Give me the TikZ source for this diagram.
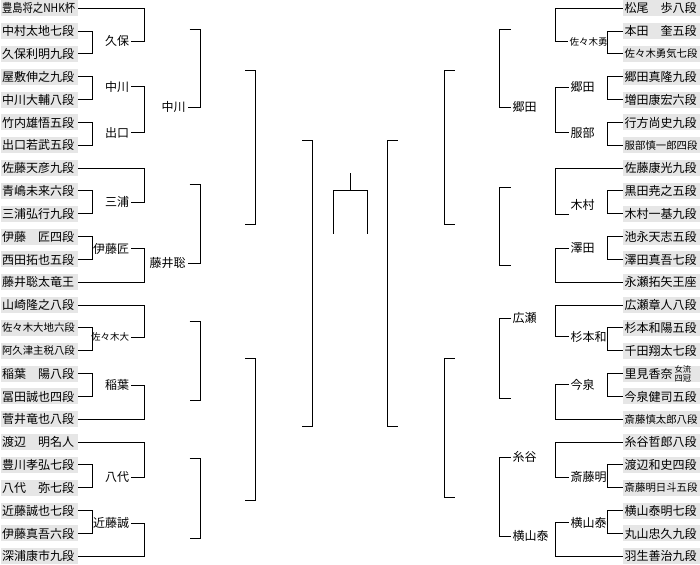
\documentclass[tikz,border=0pt]{standalone}
\usepackage{fontspec}
\setmainfont{Noto Sans CJK JP}
\usetikzlibrary{calc}
\definecolor{boxgray}{HTML}{E6E6E6}
\newcommand\nmtxt[1]{\makebox[74pt][l]{#1}}
\begin{document}
\begin{tikzpicture}[x=1pt,y=-1pt,line width=1pt,
  namebox/.style={fill=boxgray, inner xsep=1.5pt, inner ysep=0pt, minimum height=16pt, anchor=west,
    font=\fontsize{12}{14}\selectfont, text height=10.6pt, text depth=1.4pt},
  smallname/.style={namebox, font=\fontsize{10.4}{12}\selectfont, text height=9.2pt, text depth=1.2pt},
  lab/.style={inner xsep=1.5pt, inner ysep=0pt, font=\fontsize{12}{14}\selectfont, text height=10.6pt, text depth=1.4pt},
  smalllab/.style={lab, font=\fontsize{9.5}{11}\selectfont, text height=8.4pt, text depth=1.1pt},
]
\useasboundingbox (0,0) rectangle (700,564);

% ---------- left names ----------
\node[namebox]   (L0)  at (0,8.3)   {\nmtxt{\scalebox{0.86}[1]{豊島将之NHK杯}}};
\node[namebox]   (L1)  at (0,31.1)  {\nmtxt{中村太地七段}};
\node[namebox]   (L2)  at (0,54.0)  {\nmtxt{久保利明九段}};
\node[namebox]   (L3)  at (0,76.8)  {\nmtxt{屋敷伸之九段}};
\node[namebox]   (L4)  at (0,99.6)  {\nmtxt{中川大輔八段}};
\node[namebox]   (L5)  at (0,122.5) {\nmtxt{竹内雄悟五段}};
\node[namebox]   (L6)  at (0,145.3) {\nmtxt{出口若武五段}};
\node[namebox]   (L7)  at (0,168.1) {\nmtxt{佐藤天彦九段}};
\node[namebox]   (L8)  at (0,190.9) {\nmtxt{青嶋未来六段}};
\node[namebox]   (L9)  at (0,213.8) {\nmtxt{三浦弘行九段}};
\node[namebox]   (L10) at (0,236.6) {\nmtxt{伊藤　匠四段}};
\node[namebox]   (L11) at (0,259.4) {\nmtxt{西田拓也五段}};
\node[namebox]   (L12) at (0,282.3) {\nmtxt{藤井聡太竜王}};
\node[namebox]   (L13) at (0,305.1) {\nmtxt{山崎隆之八段}};
\node[smallname] (L14) at (0,327.9) {\nmtxt{佐々木大地六段}};
\node[smallname] (L15) at (0,350.8) {\nmtxt{阿久津主税八段}};
\node[namebox]   (L16) at (0,373.6) {\nmtxt{稲葉　陽八段}};
\node[namebox]   (L17) at (0,396.4) {\nmtxt{冨田誠也四段}};
\node[namebox]   (L18) at (0,419.2) {\nmtxt{菅井竜也八段}};
\node[namebox]   (L19) at (0,442.1) {\nmtxt{渡辺　明名人}};
\node[namebox]   (L20) at (0,464.9) {\nmtxt{豊川孝弘七段}};
\node[namebox]   (L21) at (0,487.7) {\nmtxt{八代　弥七段}};
\node[namebox]   (L22) at (0,510.6) {\nmtxt{近藤誠也七段}};
\node[namebox]   (L23) at (0,533.4) {\nmtxt{伊藤真吾六段}};
\node[namebox]   (L24) at (0,556.2) {\nmtxt{深浦康市九段}};

% ---------- right names ----------
\node[namebox]   (R0)  at (622.7,8.3)   {\nmtxt{松尾　歩八段}};
\node[namebox]   (R1)  at (622.7,31.1)  {\nmtxt{本田　奎五段}};
\node[smallname] (R2)  at (622.7,54.0)  {\nmtxt{佐々木勇気七段}};
\node[namebox]   (R3)  at (622.7,76.8)  {\nmtxt{郷田真隆九段}};
\node[namebox]   (R4)  at (622.7,99.6)  {\nmtxt{増田康宏六段}};
\node[namebox]   (R5)  at (622.7,122.5) {\nmtxt{行方尚史九段}};
\node[smallname] (R6)  at (622.7,145.3) {\nmtxt{服部慎一郎四段}};
\node[namebox]   (R7)  at (622.7,168.1) {\nmtxt{佐藤康光九段}};
\node[namebox]   (R8)  at (622.7,190.9) {\nmtxt{黒田尭之五段}};
\node[namebox]   (R9)  at (622.7,213.8) {\nmtxt{木村一基九段}};
\node[namebox]   (R10) at (622.7,236.6) {\nmtxt{池永天志五段}};
\node[namebox]   (R11) at (622.7,259.4) {\nmtxt{澤田真吾七段}};
\node[namebox]   (R12) at (622.7,282.3) {\nmtxt{永瀬拓矢王座}};
\node[namebox]   (R13) at (622.7,305.1) {\nmtxt{広瀬章人八段}};
\node[namebox]   (R14) at (622.7,327.9) {\nmtxt{杉本和陽五段}};
\node[namebox]   (R15) at (622.7,350.8) {\nmtxt{千田翔太七段}};
\node[namebox]   (R16) at (622.7,373.6) {\nmtxt{里見香奈\hspace{2pt}\raisebox{1.5pt}{\fontsize{8.2}{8.6}\selectfont\begin{tabular}{@{}c@{}}女流\\四冠\end{tabular}}}};
\node[namebox]   (R17) at (622.7,396.4) {\nmtxt{今泉健司五段}};
\node[smallname] (R18) at (622.7,419.2) {\nmtxt{斎藤慎太郎八段}};
\node[namebox]   (R19) at (622.7,442.1) {\nmtxt{糸谷哲郎八段}};
\node[namebox]   (R20) at (622.7,464.9) {\nmtxt{渡辺和史四段}};
\node[smallname] (R21) at (622.7,487.7) {\nmtxt{斎藤明日斗五段}};
\node[namebox]   (R22) at (622.7,510.6) {\nmtxt{横山泰明七段}};
\node[namebox]   (R23) at (622.7,533.4) {\nmtxt{丸山忠久九段}};
\node[namebox]   (R24) at (622.7,556.2) {\nmtxt{羽生善治九段}};

% ---------- round 1 brackets ----------
\foreach \a/\b in {1/2,3/4,5/6,8/9,10/11,14/15,16/17,20/21,22/23}{
  \draw (L\a.east) -- ++(14,0) |- (L\b.east);
  \draw (R\a.west) -- ++(-15,0) |- (R\b.west);
}

% ---------- left round-1 winners ----------
\node[lab, anchor=east]      (W0) at (131,41.3)  {久保};
\node[lab, anchor=east]      (W1) at (131,87.0)  {中川};
\node[lab, anchor=east]      (W2) at (131,132.5) {出口};
\node[lab, anchor=east]      (W3) at (131,202.0) {三浦};
\node[lab, anchor=east]      (W4) at (131,248.5) {伊藤匠};
\node[smalllab, anchor=east] (W5) at (131,337.0) {佐々木大};
\node[lab, anchor=east]      (W6) at (131,385.0) {稲葉};
\node[lab, anchor=east]      (W7) at (131,477.3) {八代};
\node[lab, anchor=east]      (W8) at (131,523.3) {近藤誠};

\draw (L0.east)  -| ([xshift=13.3pt]W0.east) -- (W0.east);
\draw (W1.east)  -- ++(13.3,0) |- (W2.east);
\draw (L7.east)  -| ([xshift=13.3pt]W3.east) -- (W3.east);
\draw (W4.east)  -- ++(13.3,0) |- (L12.east);
\draw (L13.east) -| ([xshift=13.3pt]W5.east) -- (W5.east);
\draw (W6.east)  -- ++(13.3,0) |- (L18.east);
\draw (L19.east) -| ([xshift=13.3pt]W7.east) -- (W7.east);
\draw (W8.east)  -- ++(13.3,0) |- (L24.east);

% ---------- left round-2 winners ----------
\node[lab, anchor=east] (X0) at (187.5,107.3) {中川};
\node[lab, anchor=east] (X1) at (187.5,263.0) {藤井聡};
\coordinate (s1) at (189.5,29.3);
\coordinate (s2) at (189.5,184.3);
\coordinate (s3) at (189.5,321.7);
\coordinate (s4) at (189.5,400.3);
\coordinate (s5) at (189.5,458.3);
\coordinate (s6) at (189.5,538.3);
\draw (s1) -| ([xshift=12.8pt]X0.east) -- (X0.east);
\draw (s2) -| ([xshift=12.8pt]X1.east) -- (X1.east);
\draw (s3) -- ++(10.8,0) |- (s4);
\draw (s5) -- ++(10.8,0) |- (s6);

% ---------- left round 4 and semifinal ----------
\coordinate (t1) at (245,70.3);
\coordinate (t2) at (245,224);
\coordinate (t3) at (245,358.3);
\coordinate (t4) at (245,500);
\draw (t1) -- ++(10.3,0) |- (t2);
\draw (t3) -- ++(10.3,0) |- (t4);
\coordinate (u1) at (302.3,140.3);
\coordinate (u2) at (302.3,426);
\draw (u1) -- ++(10,0) |- (u2);

% ---------- final ----------
\coordinate (ftop) at (350.5,173.3);
\coordinate (fmid) at (350.5,190.3);
\coordinate (fl) at (333.3,233.7);
\coordinate (fr) at (367.3,233.7);
\draw (fl) |- (fmid) -| (fr);
\draw (ftop) -- (fmid);

% ---------- right semifinal and round 4 ----------
\coordinate (v1) at (397.7,140.3);
\coordinate (v2) at (397.7,426);
\draw (v1) -- ++(-10,0) |- (v2);
\coordinate (w1) at (454.7,70.3);
\coordinate (w2) at (454.7,224);
\coordinate (w3) at (454.7,358.3);
\coordinate (w4) at (454.7,497.3);
\draw (w1) -- ++(-10,0) |- (w2);
\draw (w3) -- ++(-10,0) |- (w4);

% ---------- right round 3 ----------
\node[lab, anchor=west] (Q0) at (510.7,107.3) {郷田};
\node[lab, anchor=west] (Q1) at (510.7,318.3) {広瀬};
\node[lab, anchor=west] (Q2) at (510.7,457.3) {糸谷};
\node[lab, anchor=west] (Q3) at (510.7,536.0) {横山泰};
\coordinate (rq1) at (510.7,29.7);
\coordinate (rq2) at (510.7,187.7);
\coordinate (rq3) at (510.7,265);
\coordinate (rq4) at (510.7,398.3);
\draw (rq1) -| ([xshift=-11pt]Q0.west) -- (Q0.west);
\draw (rq2) -- ++(-11,0) |- (rq3);
\draw (Q1.west) -- ++(-11,0) |- (rq4);
\draw (Q2.west) -- ++(-11,0) |- (Q3.west);

% ---------- right round-2 ----------
\node[smalllab, anchor=west] (P0) at (567.5,41.7)  {佐々木勇};
\node[lab, anchor=west]      (P1) at (568.5,87.3)  {郷田};
\node[lab, anchor=west]      (P2) at (568.5,132.7) {服部};
\node[lab, anchor=west]      (P3) at (568.5,204.5) {木村};
\node[lab, anchor=west]      (P4) at (568.5,248.0) {澤田};
\node[lab, anchor=west]      (P5) at (568.5,336.7) {杉本和};
\node[lab, anchor=west]      (P6) at (568.5,384.5) {今泉};
\node[lab, anchor=west]      (P7) at (568.5,477.3) {斎藤明};
\node[lab, anchor=west]      (P8) at (568.5,522.7) {横山泰};

\draw (R0.west)  -| ([xshift=-11.8pt]P0.west) -- (P0.west);
\draw (P1.west)  -- ++(-12.8,0) |- (P2.west);
\draw (R7.west)  -| ([xshift=-12.8pt,yshift=-9.8pt]P3.west) -- ([yshift=-9.8pt]P3.west);
\draw (P4.west)  -- ++(-12.8,0) |- (R12.west);
\draw (R13.west) -| ([xshift=-12.8pt]P5.west) -- (P5.west);
\draw (P6.west)  -- ++(-12.8,0) |- (R18.west);
\draw (R19.west) -| ([xshift=-12.8pt]P7.west) -- (P7.west);
\draw (P8.west)  -- ++(-12.8,0) |- (R24.west);
\end{tikzpicture}
\end{document}
